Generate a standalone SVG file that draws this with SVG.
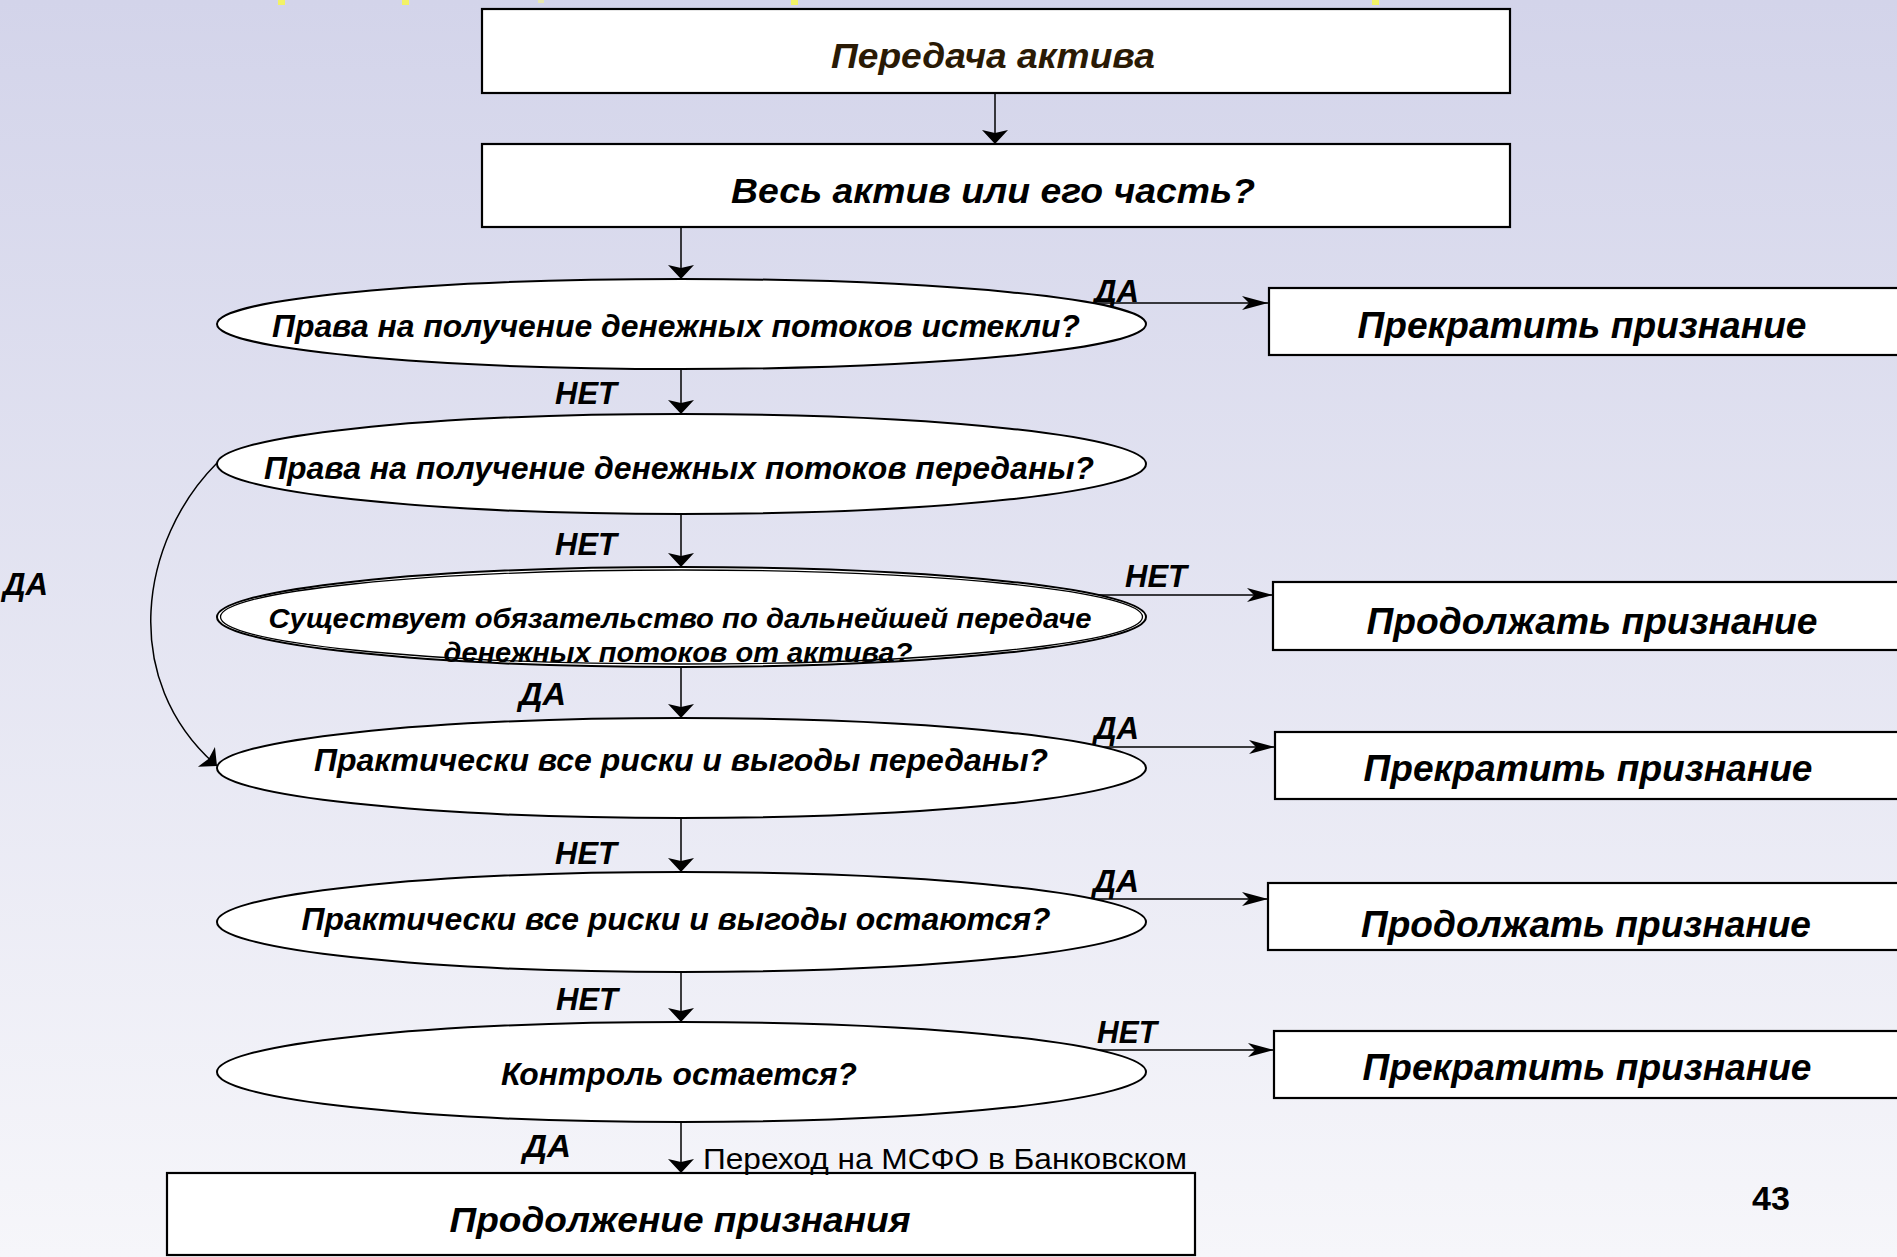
<svg xmlns="http://www.w3.org/2000/svg" width="1897" height="1257" viewBox="0 0 1897 1257">
<defs>
<linearGradient id="bg" x1="0" y1="0" x2="0" y2="1">
<stop offset="0" stop-color="#d3d4ea"/>
<stop offset="1" stop-color="#f6f6fa"/>
</linearGradient>
<marker id="arrV" markerUnits="userSpaceOnUse" markerWidth="32" markerHeight="32" viewBox="-16 -16 32 32" refX="0" refY="0" orient="auto">
<path d="M0 0 L-14 -13 L-11 0 L-14 13 Z" fill="#000"/>
</marker>
<marker id="arrH" markerUnits="userSpaceOnUse" markerWidth="30" markerHeight="30" viewBox="-28 -15 30 30" refX="0" refY="0" orient="auto">
<path d="M0 0 L-26 -7 L-19 0 L-26 7 Z" fill="#000"/>
</marker>
<style>
.box{fill:#fff;stroke:#000;stroke-width:2.2}
.ell{fill:#fff;stroke:#000;stroke-width:2}
.t{font-family:"Liberation Sans",Arial,sans-serif;font-weight:bold;font-style:italic;fill:#000}
.q{font-size:31px;text-anchor:middle}
.r{font-size:37px;text-anchor:middle}
.lbl{font-size:31px}
.v{fill:none;stroke:#000;stroke-width:1.5;marker-end:url(#arrV)}
.h{fill:none;stroke:#000;stroke-width:1.6;marker-end:url(#arrH)}
</style>
</defs>
<rect x="0" y="0" width="1897" height="1257" fill="url(#bg)"/>
<g id="title-fragments" fill="#f2f266">
<rect x="278" y="0" width="7" height="5"/>
<rect x="402" y="0" width="7" height="5"/>
<rect x="538" y="0" width="6" height="3" fill="#e8e8b0"/>
<rect x="791" y="0" width="7" height="5"/>
<rect x="1372" y="0" width="7" height="5"/>
</g>

<g id="connectors">
<line class="v" x1="995" y1="93" x2="995" y2="144"/>
<line class="v" x1="681" y1="228" x2="681" y2="279"/>
<line class="v" x1="681" y1="369" x2="681" y2="414"/>
<line class="v" x1="681" y1="514" x2="681" y2="567"/>
<line class="v" x1="681" y1="667" x2="681" y2="718"/>
<line class="v" x1="681" y1="818" x2="681" y2="872"/>
<line class="v" x1="681" y1="972" x2="681" y2="1022"/>
<line class="v" x1="681" y1="1122" x2="681" y2="1173"/>
<line class="h" x1="1092" y1="303" x2="1268" y2="303"/>
<line class="h" x1="1098" y1="595" x2="1273" y2="595"/>
<line class="h" x1="1103" y1="747" x2="1275" y2="747"/>
<line class="h" x1="1094" y1="899" x2="1268" y2="899"/>
<line class="h" x1="1098" y1="1050" x2="1274" y2="1050"/>
<path class="v" d="M217 463 C 140 540, 118 680, 217 766"/>
<text class="t lbl" x="1094" y="302" textLength="45" lengthAdjust="spacingAndGlyphs">ДА</text>
<text class="t lbl" x="555" y="404" textLength="62" lengthAdjust="spacingAndGlyphs">НЕТ</text>
<text class="t lbl" x="555" y="555" textLength="62" lengthAdjust="spacingAndGlyphs">НЕТ</text>
<text class="t lbl" x="1125" y="587" textLength="62" lengthAdjust="spacingAndGlyphs">НЕТ</text>
<text class="t lbl" x="3" y="595" textLength="45" lengthAdjust="spacingAndGlyphs">ДА</text>
<text class="t lbl" x="519" y="705" textLength="47" lengthAdjust="spacingAndGlyphs">ДА</text>
<text class="t lbl" x="1094" y="739" textLength="45" lengthAdjust="spacingAndGlyphs">ДА</text>
<text class="t lbl" x="555" y="864" textLength="62" lengthAdjust="spacingAndGlyphs">НЕТ</text>
<text class="t lbl" x="1093" y="892" textLength="46" lengthAdjust="spacingAndGlyphs">ДА</text>
<text class="t lbl" x="556" y="1010" textLength="62" lengthAdjust="spacingAndGlyphs">НЕТ</text>
<text class="t lbl" x="1097" y="1043" textLength="60" lengthAdjust="spacingAndGlyphs">НЕТ</text>
<text class="t lbl" x="523" y="1157" textLength="48" lengthAdjust="spacingAndGlyphs">ДА</text>
</g>

<g id="n-transfer">
<rect class="box" x="482" y="9" width="1028" height="84" stroke-width="2.6"/>
<text class="t" x="993" y="68" font-size="35" text-anchor="middle" style="fill:#2a1a05" textLength="324" lengthAdjust="spacingAndGlyphs">Передача актива</text>
</g>
<g id="n-whole">
<rect class="box" x="482" y="144" width="1028" height="83"/>
<text class="t" x="993" y="203" font-size="35" text-anchor="middle" textLength="524" lengthAdjust="spacingAndGlyphs">Весь актив или его часть?</text>
</g>
<g id="q-expired">
<ellipse class="ell" cx="681.5" cy="324" rx="464.5" ry="45"/>
<text class="t q" x="676" y="337" textLength="808" lengthAdjust="spacingAndGlyphs">Права на получение денежных потоков истекли?</text>
</g>
<g id="q-transferred">
<ellipse class="ell" cx="681.5" cy="464" rx="464.5" ry="50"/>
<text class="t q" x="679" y="479" textLength="830" lengthAdjust="spacingAndGlyphs">Права на получение денежных потоков переданы?</text>
</g>
<g id="q-obligation">
<ellipse class="ell" cx="681.5" cy="617" rx="464.5" ry="50"/>
<ellipse cx="681.5" cy="617" rx="461" ry="47" fill="none" stroke="#000" stroke-width="1.3"/>
<text class="t" x="680" y="628" font-size="27" text-anchor="middle" textLength="823" lengthAdjust="spacingAndGlyphs">Существует обязательство по дальнейшей передаче</text>
<text class="t" x="678" y="662" font-size="27" text-anchor="middle" textLength="469" lengthAdjust="spacingAndGlyphs">денежных потоков от актива?</text>
</g>
<g id="q-risks-transferred">
<ellipse class="ell" cx="681.5" cy="768" rx="464.5" ry="50"/>
<text class="t q" x="681" y="771" textLength="734" lengthAdjust="spacingAndGlyphs">Практически все риски и выгоды переданы?</text>
</g>
<g id="q-risks-retained">
<ellipse class="ell" cx="681.5" cy="922" rx="464.5" ry="50"/>
<text class="t q" x="676" y="930" textLength="749" lengthAdjust="spacingAndGlyphs">Практически все риски и выгоды остаются?</text>
</g>
<g id="q-control">
<ellipse class="ell" cx="681.5" cy="1072" rx="464.5" ry="50"/>
<text class="t q" x="679" y="1085" textLength="356" lengthAdjust="spacingAndGlyphs">Контроль остается?</text>
</g>
<g id="r-stop-1">
<rect class="box" x="1269" y="288" width="650" height="67"/>
<text class="t r" x="1582" y="338" textLength="449" lengthAdjust="spacingAndGlyphs">Прекратить признание</text>
</g>
<g id="r-continue-1">
<rect class="box" x="1273" y="582" width="650" height="68"/>
<text class="t r" x="1592" y="634" textLength="451" lengthAdjust="spacingAndGlyphs">Продолжать признание</text>
</g>
<g id="r-stop-2">
<rect class="box" x="1275" y="732" width="650" height="67"/>
<text class="t r" x="1588" y="781" textLength="449" lengthAdjust="spacingAndGlyphs">Прекратить признание</text>
</g>
<g id="r-continue-2">
<rect class="box" x="1268" y="883" width="650" height="67"/>
<text class="t r" x="1586" y="937" textLength="450" lengthAdjust="spacingAndGlyphs">Продолжать признание</text>
</g>
<g id="r-stop-3">
<rect class="box" x="1274" y="1031" width="650" height="67"/>
<text class="t r" x="1587" y="1080" textLength="449" lengthAdjust="spacingAndGlyphs">Прекратить признание</text>
</g>
<g id="n-continue-final">
<rect class="box" x="167" y="1173" width="1028" height="82"/>
<text class="t" x="680" y="1232" font-size="35" text-anchor="middle" textLength="461" lengthAdjust="spacingAndGlyphs">Продолжение признания</text>
</g>
<g id="footer">
<text x="703" y="1169" font-family="Liberation Sans, Arial, sans-serif" font-size="30" fill="#000" textLength="484" lengthAdjust="spacingAndGlyphs">Переход на МСФО в Банковском</text>
<text x="1771" y="1210" font-family="Liberation Sans, Arial, sans-serif" font-size="34" font-weight="bold" fill="#000" text-anchor="middle">43</text>
</g>
</svg>
